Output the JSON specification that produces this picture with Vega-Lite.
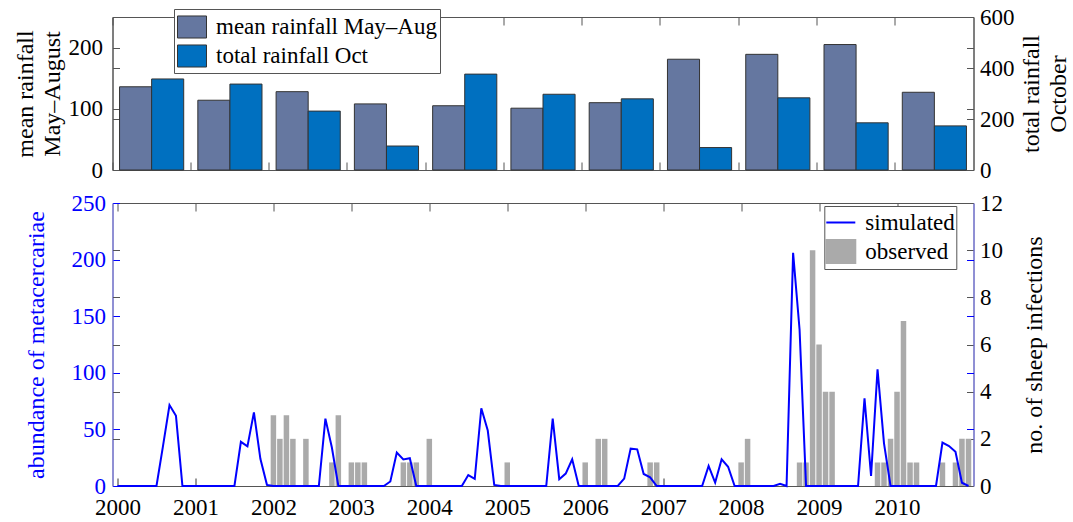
{
"$schema":"https://vega.github.io/schema/vega-lite/v6.json",
"background":"white",
"padding":{"left":12.5,"top":5,"right":5,"bottom":5},
"bounds":"flush",
"spacing":33,
"config":{
 "font":"Liberation Serif",
 "view":{"stroke":"#555","strokeWidth":1},
 "axis":{"labelFont":"Liberation Serif","titleFont":"Liberation Serif","labelFontSize":23,"titleFontSize":24,"titleFontWeight":"normal","labelColor":"#000","titleColor":"#000","grid":false,"domainColor":"#555","tickColor":"#555","zindex":1,"labelOverlap":false},
 "legend":{"labelFont":"Liberation Serif","labelFontSize":23,"labelColor":"#000","labelLimit":0}
},
"resolve":{"scale":{"color":"independent"},"legend":{"color":"independent"}},
"datasets":{
 "rain":[
  {"year":2000,"series":"mean rainfall May–Aug","value":136},{"year":2000,"series":"total rainfall Oct","value":357},
  {"year":2001,"series":"mean rainfall May–Aug","value":114},{"year":2001,"series":"total rainfall Oct","value":337},
  {"year":2002,"series":"mean rainfall May–Aug","value":128},{"year":2002,"series":"total rainfall Oct","value":231},
  {"year":2003,"series":"mean rainfall May–Aug","value":108},{"year":2003,"series":"total rainfall Oct","value":94},
  {"year":2004,"series":"mean rainfall May–Aug","value":105},{"year":2004,"series":"total rainfall Oct","value":376},
  {"year":2005,"series":"mean rainfall May–Aug","value":101},{"year":2005,"series":"total rainfall Oct","value":297},
  {"year":2006,"series":"mean rainfall May–Aug","value":110},{"year":2006,"series":"total rainfall Oct","value":279},
  {"year":2007,"series":"mean rainfall May–Aug","value":181},{"year":2007,"series":"total rainfall Oct","value":88},
  {"year":2008,"series":"mean rainfall May–Aug","value":189},{"year":2008,"series":"total rainfall Oct","value":283},
  {"year":2009,"series":"mean rainfall May–Aug","value":205},{"year":2009,"series":"total rainfall Oct","value":185},
  {"year":2010,"series":"mean rainfall May–Aug","value":127},{"year":2010,"series":"total rainfall Oct","value":173}
 ],
 "sim":[
  {"t":2000.000,"v":0},{"t":2000.083,"v":0},{"t":2000.167,"v":0},{"t":2000.250,"v":0},{"t":2000.333,"v":0},{"t":2000.417,"v":0},{"t":2000.500,"v":0},{"t":2000.583,"v":35},{"t":2000.667,"v":71.5},{"t":2000.750,"v":62},{"t":2000.833,"v":0},{"t":2000.917,"v":0},
  {"t":2001.000,"v":0},{"t":2001.083,"v":0},{"t":2001.167,"v":0},{"t":2001.250,"v":0},{"t":2001.333,"v":0},{"t":2001.417,"v":0},{"t":2001.500,"v":0},{"t":2001.583,"v":39},{"t":2001.667,"v":35},{"t":2001.750,"v":65},{"t":2001.833,"v":24},{"t":2001.917,"v":1},
  {"t":2002.000,"v":0},{"t":2002.083,"v":0},{"t":2002.167,"v":0},{"t":2002.250,"v":0},{"t":2002.333,"v":0},{"t":2002.417,"v":0},{"t":2002.500,"v":0},{"t":2002.583,"v":0},{"t":2002.667,"v":59.5},{"t":2002.750,"v":34},{"t":2002.833,"v":0},{"t":2002.917,"v":0},
  {"t":2003.000,"v":0},{"t":2003.083,"v":0},{"t":2003.167,"v":0},{"t":2003.250,"v":0},{"t":2003.333,"v":0},{"t":2003.417,"v":0},{"t":2003.500,"v":4},{"t":2003.583,"v":29.5},{"t":2003.667,"v":23.5},{"t":2003.750,"v":24.5},{"t":2003.833,"v":0},{"t":2003.917,"v":0},
  {"t":2004.000,"v":0},{"t":2004.083,"v":0},{"t":2004.167,"v":0},{"t":2004.250,"v":0},{"t":2004.333,"v":0},{"t":2004.417,"v":0},{"t":2004.500,"v":9.7},{"t":2004.583,"v":6.3},{"t":2004.667,"v":68.7},{"t":2004.750,"v":49},{"t":2004.833,"v":1},{"t":2004.917,"v":0},
  {"t":2005.000,"v":0},{"t":2005.083,"v":0},{"t":2005.167,"v":0},{"t":2005.250,"v":0},{"t":2005.333,"v":0},{"t":2005.417,"v":0},{"t":2005.500,"v":0},{"t":2005.583,"v":59.6},{"t":2005.667,"v":6},{"t":2005.750,"v":11},{"t":2005.833,"v":23.6},{"t":2005.917,"v":0},
  {"t":2006.000,"v":0},{"t":2006.083,"v":0},{"t":2006.167,"v":0},{"t":2006.250,"v":0},{"t":2006.333,"v":0},{"t":2006.417,"v":0},{"t":2006.500,"v":6.5},{"t":2006.583,"v":33},{"t":2006.667,"v":32.4},{"t":2006.750,"v":10.6},{"t":2006.833,"v":7.7},{"t":2006.917,"v":0},
  {"t":2007.000,"v":0},{"t":2007.083,"v":0},{"t":2007.167,"v":0},{"t":2007.250,"v":0},{"t":2007.333,"v":0},{"t":2007.417,"v":0},{"t":2007.500,"v":0},{"t":2007.583,"v":17.7},{"t":2007.667,"v":3},{"t":2007.750,"v":23.6},{"t":2007.833,"v":17},{"t":2007.917,"v":0},
  {"t":2008.000,"v":0},{"t":2008.083,"v":0},{"t":2008.167,"v":0},{"t":2008.250,"v":0},{"t":2008.333,"v":0},{"t":2008.417,"v":0},{"t":2008.500,"v":2},{"t":2008.583,"v":0},{"t":2008.667,"v":206},{"t":2008.750,"v":138},{"t":2008.833,"v":0},{"t":2008.917,"v":0},
  {"t":2009.000,"v":0},{"t":2009.083,"v":0},{"t":2009.167,"v":0},{"t":2009.250,"v":0},{"t":2009.333,"v":0},{"t":2009.417,"v":0},{"t":2009.500,"v":0},{"t":2009.583,"v":77.4},{"t":2009.667,"v":8.8},{"t":2009.750,"v":103},{"t":2009.833,"v":37.7},{"t":2009.917,"v":0},
  {"t":2010.000,"v":0},{"t":2010.083,"v":0},{"t":2010.167,"v":0},{"t":2010.250,"v":0},{"t":2010.333,"v":0},{"t":2010.417,"v":0},{"t":2010.500,"v":0},{"t":2010.583,"v":38.3},{"t":2010.667,"v":35.3},{"t":2010.750,"v":30.3},{"t":2010.833,"v":2.9},{"t":2010.917,"v":0}
 ],
 "obs":[
  {"t":2002.000,"n":3},{"t":2002.083,"n":2},{"t":2002.167,"n":3},{"t":2002.250,"n":2},{"t":2002.417,"n":2},{"t":2002.750,"n":1},{"t":2002.833,"n":3},
  {"t":2003.000,"n":1},{"t":2003.083,"n":1},{"t":2003.167,"n":1},{"t":2003.667,"n":1},{"t":2003.750,"n":1},{"t":2003.833,"n":1},
  {"t":2004.000,"n":2},{"t":2005.000,"n":1},
  {"t":2006.000,"n":1},{"t":2006.167,"n":2},{"t":2006.250,"n":2},{"t":2006.833,"n":1},{"t":2006.917,"n":1},
  {"t":2008.000,"n":1},{"t":2008.083,"n":2},{"t":2008.750,"n":1},{"t":2008.833,"n":1},{"t":2008.917,"n":10},
  {"t":2009.000,"n":6},{"t":2009.083,"n":4},{"t":2009.167,"n":4},{"t":2009.750,"n":1},{"t":2009.833,"n":1},{"t":2009.917,"n":2},
  {"t":2010.000,"n":4},{"t":2010.083,"n":7},{"t":2010.167,"n":1},{"t":2010.250,"n":1},{"t":2010.583,"n":1},{"t":2010.750,"n":1},{"t":2010.833,"n":2},{"t":2010.917,"n":2}
 ]
},
"vconcat":[
 {
  "width":861,"height":153,
  "data":{"name":"rain"},
  "layer":[
   {
    "transform":[{"filter":{"field":"series","equal":"mean rainfall May–Aug"}}],
    "mark":{"type":"bar","stroke":"#333","strokeWidth":1},
    "encoding":{
     "x":{"field":"year","type":"ordinal","scale":{"paddingInner":0,"paddingOuter":0},"axis":{"orient":"bottom","title":null,"labels":false,"bandPosition":0,"tickSize":-8,"domain":false}},
     "xOffset":{"field":"series","scale":{"domain":["mean rainfall May–Aug","total rainfall Oct"],"paddingInner":0,"paddingOuter":0.22}},
     "y":{"field":"value","type":"quantitative","scale":{"domain":[0,250],"nice":false},"axis":{"orient":"left","values":[0,100,200],"tickSize":-7,"labelPadding":17,"title":["mean rainfall","May–August"],"titlePadding":4,"titleLineHeight":27}},
     "color":{"field":"series","type":"nominal","scale":{"domain":["mean rainfall May–Aug","total rainfall Oct"],"range":["#6577a0","#0070c0"]},
      "legend":{"orient":"none","legendX":61.5,"legendY":-8,"title":null,"strokeColor":"#555","fillColor":"white","padding":3,"symbolType":"M-1,-0.76H1V0.76H-1Z","symbolSize":841,"symbolStrokeColor":"#333","symbolStrokeWidth":1,"labelFontSize":23,"labelOffset":9,"rowPadding":0,"zindex":5}}
    }
   },
   {
    "transform":[{"filter":{"field":"series","equal":"total rainfall Oct"}}],
    "mark":{"type":"bar","stroke":"#333","strokeWidth":1},
    "encoding":{
     "x":{"field":"year","type":"ordinal","axis":{"orient":"top","title":null,"labels":false,"bandPosition":0,"tickSize":-8,"domain":false}},
     "xOffset":{"field":"series"},
     "y":{"field":"value","type":"quantitative","scale":{"domain":[0,600],"nice":false},"axis":{"orient":"right","values":[0,200,400,600],"tickSize":-7,"labelPadding":13,"title":["total rainfall","October"],"titleAngle":270,"titleBaseline":"top","titleAlign":"center","titleX":46,"titleY":76.5,"titleLineHeight":27}},
     "color":{"field":"series","type":"nominal"}
    }
   },
   {
    "transform":[{"filter":{"field":"series","equal":"mean rainfall May–Aug"}}],
    "mark":{"type":"point","opacity":0},
    "encoding":{
     "x":{"field":"year","type":"ordinal","axis":null},
     "y":{"field":"value","type":"quantitative","scale":{"domain":[0,250],"nice":false},"axis":{"orient":"right","values":[100,200],"labels":false,"domain":false,"tickSize":-7,"title":null}}
    }
   },
   {
    "transform":[{"filter":{"field":"series","equal":"total rainfall Oct"}}],
    "mark":{"type":"point","opacity":0},
    "encoding":{
     "x":{"field":"year","type":"ordinal","axis":null},
     "y":{"field":"value","type":"quantitative","scale":{"domain":[0,600],"nice":false},"axis":{"orient":"left","values":[200,400],"labels":false,"domain":false,"tickSize":-7,"title":null}}
    }
   }
  ],
  "resolve":{"scale":{"y":"independent"},"axis":{"x":"independent"}}
 },
 {
  "width":861,"height":283,
  "layer":[
   {
    "data":{"name":"obs"},
    "mark":{"type":"bar","size":5.5,"clip":true},
    "encoding":{
     "x":{"field":"t","type":"quantitative","scale":{"domain":[2000,2010.917],"nice":false,"zero":false},"axis":{"orient":"bottom","values":[2000,2001,2002,2003,2004,2005,2006,2007,2008,2009,2010],"format":"d","title":null,"tickSize":-8,"tickColor":"#333","labelPadding":18,"domain":false}},
     "y":{"field":"n","type":"quantitative","scale":{"domain":[0,12],"nice":false},"axis":{"orient":"right","values":[0,2,4,6,8,10,12],"tickSize":-7,"labelPadding":13,"domainColor":"#7777ff","title":"no. of sheep infections","titleAngle":270,"titleBaseline":"top","titlePadding":20}},
     "color":{"datum":"observed","scale":{"domain":["simulated","observed"],"range":["#0000ff","#aaaaaa"]},
      "legend":{"orient":"none","legendX":711.8,"legendY":3,"title":null,"strokeColor":"#555","fillColor":"white","padding":1,"symbolSize":841,"labelFontSize":23,"labelOffset":9,"rowPadding":0,"zindex":5,
       "encode":{"symbols":{"update":{"shape":{"signal":"datum.value === 'simulated' ? 'stroke' : 'M-1,-0.8H1V0.8H-1Z'"},"fill":{"signal":"datum.value === 'simulated' ? 'transparent' : '#aaaaaa'"},"stroke":{"signal":"datum.value === 'simulated' ? '#0000ff' : 'transparent'"},"strokeWidth":{"value":2},"opacity":{"value":1}}}}}}
    }
   },
   {
    "data":{"name":"sim"},
    "mark":{"type":"line","strokeWidth":2},
    "encoding":{
     "x":{"field":"t","type":"quantitative","axis":{"orient":"top","values":[2000,2001,2002,2003,2004,2005,2006,2007,2008,2009,2010],"labels":false,"title":null,"tickSize":-8,"domain":false}},
     "y":{"field":"v","type":"quantitative","scale":{"domain":[0,250],"nice":false},"axis":{"orient":"left","values":[0,50,100,150,200,250],"tickSize":-7,"labelPadding":14,"labelColor":"#0000ff","titleColor":"#0000ff","domainColor":"#7777ff","tickColor":"#0000ff","title":"abundance of metacercariae","titlePadding":23}},
     "color":{"datum":"simulated"}
    }
   },
   {
    "data":{"name":"sim"},
    "mark":{"type":"point","opacity":0},
    "encoding":{
     "x":{"field":"t","type":"quantitative","axis":null},
     "y":{"field":"v","type":"quantitative","scale":{"domain":[0,250],"nice":false},"axis":{"orient":"right","values":[50,100,150,200],"labels":false,"domain":false,"tickSize":-7,"tickColor":"#0000ff","title":null}}
    }
   },
   {
    "data":{"name":"obs"},
    "mark":{"type":"point","opacity":0},
    "encoding":{
     "x":{"field":"t","type":"quantitative","axis":null},
     "y":{"field":"n","type":"quantitative","scale":{"domain":[0,12],"nice":false},"axis":{"orient":"left","values":[2,4,6,8,10],"labels":false,"domain":false,"tickSize":-7,"title":null}}
    }
   }
  ],
  "resolve":{"scale":{"y":"independent"},"axis":{"x":"independent"}}
 }
]
}
